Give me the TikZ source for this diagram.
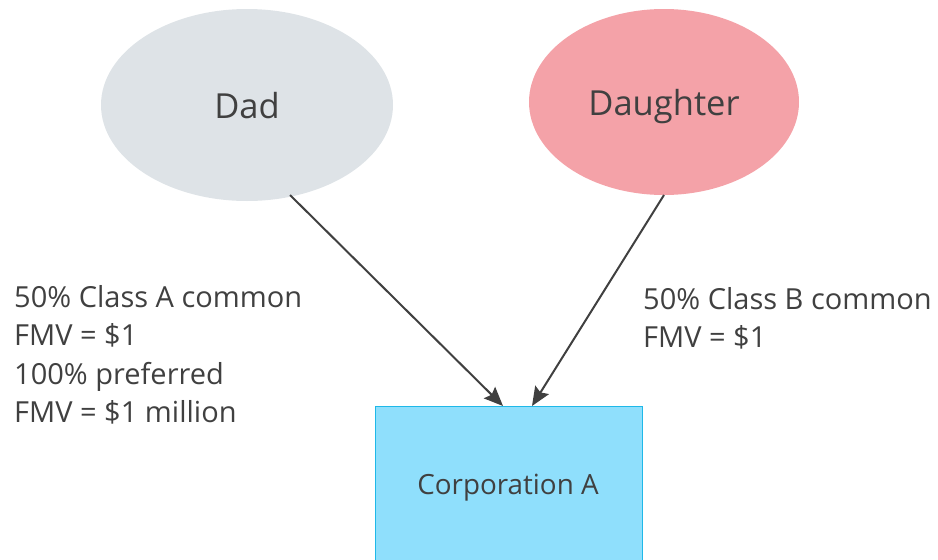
\documentclass[tikz,border=0pt]{standalone}
\usepackage{fontspec}
\setmainfont{Open Sans}
\usetikzlibrary{shapes.geometric,arrows.meta}
\definecolor{txt}{HTML}{404040}
\definecolor{dadfill}{HTML}{DEE3E7}
\definecolor{girlfill}{HTML}{F4A2A8}
\definecolor{corpfill}{HTML}{8FDFFC}
\definecolor{corpline}{HTML}{1FB8E8}
\tikzset{
  person/.style={ellipse, inner sep=0pt},
  who/.style={text=txt, inner sep=0pt, font=\fontsize{34.5}{40}\selectfont},
  corp/.style={rectangle, draw=corpline, line width=1.2pt, fill=corpfill, inner sep=0pt},
  link/.style={draw=txt, line width=2pt, -{Stealth[length=19pt,width=16pt,inset=3pt]}},
  note/.style={text=txt, align=left, anchor=north west, inner sep=0pt, font=\fontsize{29}{38.5}\selectfont}
}
\begin{document}
\begin{tikzpicture}[x=1pt,y=-1pt]
\useasboundingbox (0,0) rectangle (938,560);
\clip (0,0) rectangle (938,560);
\node[person, fill=dadfill, minimum width=292pt, minimum height=192pt] (dad) at (247,105) {};
\node[who] (dadlabel) at (247,106) {Dad};
\node[person, fill=girlfill, minimum width=270pt, minimum height=186pt] (girl) at (664,102) {};
\node[who] (girllabel) at (664,107) {Daughter};
\node[corp, minimum width=267pt, minimum height=200pt, anchor=north west] (corp) at (375,406) {};
\node[text=txt, font=\fontsize{27.8}{30}\selectfont] (corplabel) at (508,488) {Corporation A};
\coordinate (dadout) at (290,195);
\coordinate (girlout) at (664,195);
\coordinate (dadin) at (503,406);
\coordinate (girlin) at (532,406);
\draw[link] (dadout) -- (dadin);
\draw[link] (girlout) -- (girlin);
\node[note] (dadnote) at (14,285) {50\% Class A common\\FMV = \$1\\100\% preferred\\FMV = \$1 million};
\node[note] (girlnote) at (643,287) {50\% Class B common\\FMV = \$1};
\end{tikzpicture}
\end{document}
